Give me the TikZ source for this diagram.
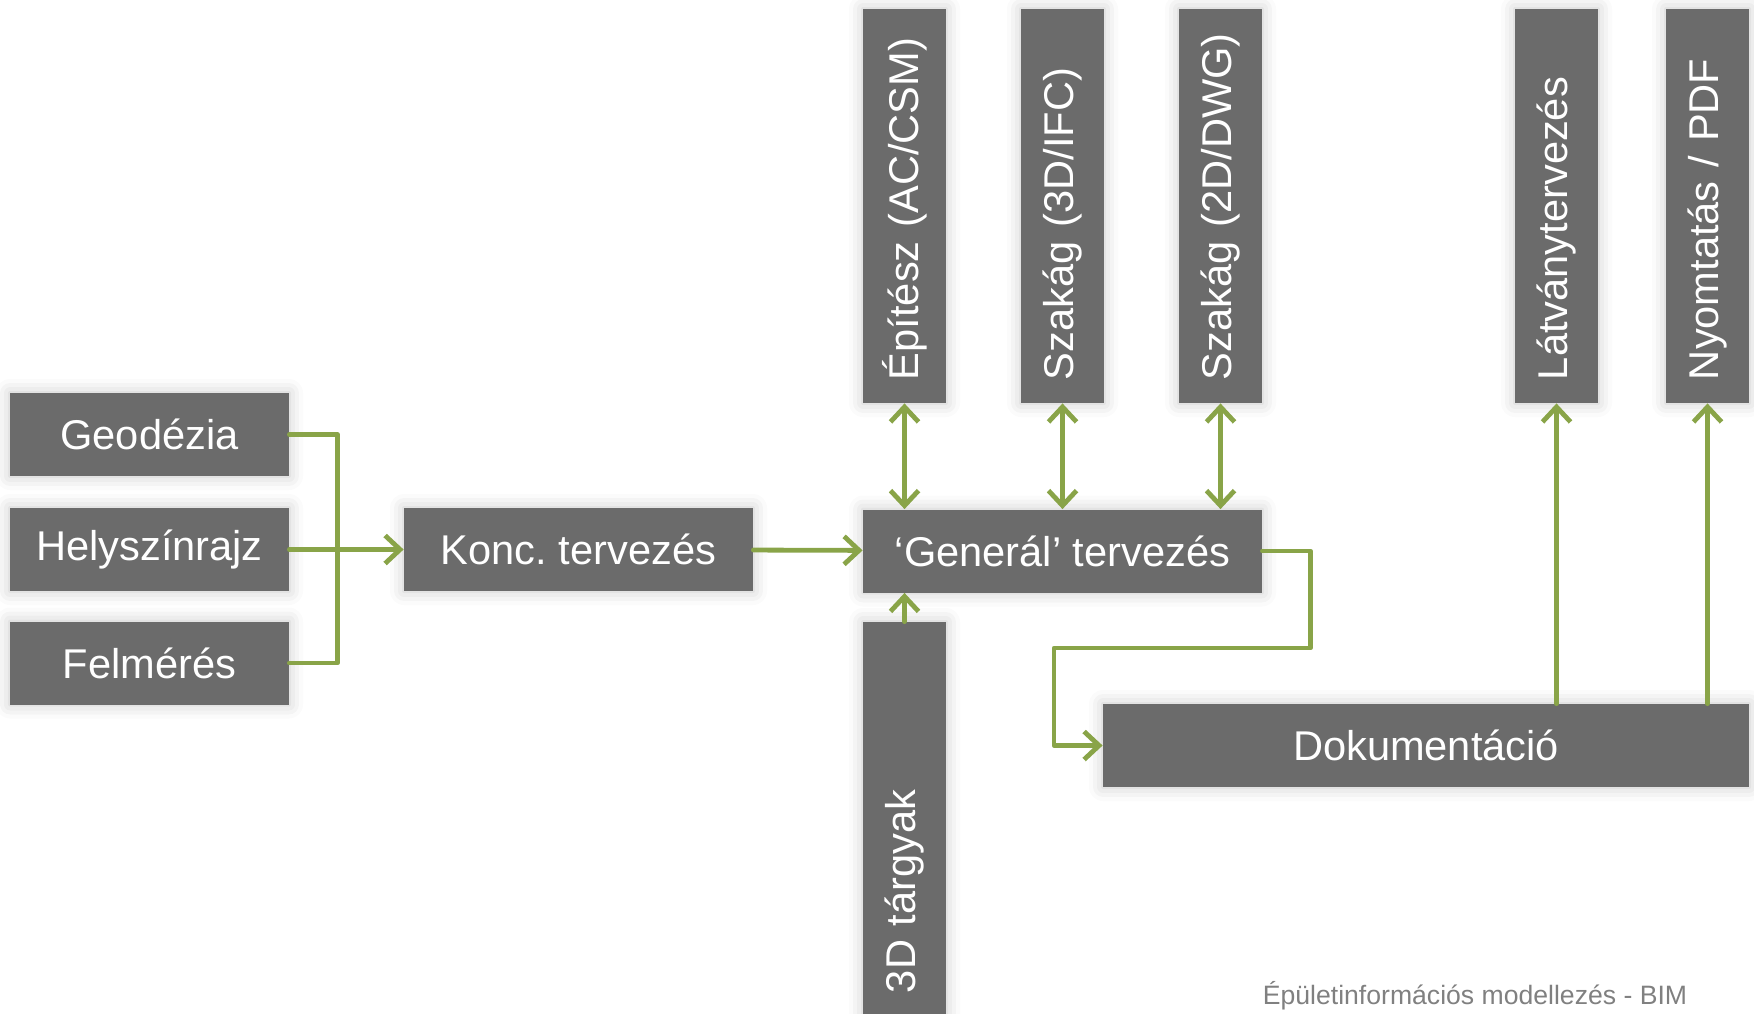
\documentclass[tikz,border=0pt]{standalone}
\usepackage{fontspec}
\setmainfont{Liberation Sans}
\usetikzlibrary{arrows.meta,calc,positioning,shadows.blur}
\definecolor{BoxGray}{RGB}{107,107,107}
\definecolor{LinkGreen}{RGB}{137,164,72}
\definecolor{NoteGray}{RGB}{128,128,128}
\frenchspacing

\begin{document}
\begin{tikzpicture}[x=0.5pt,y=-0.5pt,
  box/.style={fill=BoxGray,text=white,inner sep=0pt,font=\fontsize{20.8}{25}\selectfont,
    blur shadow={shadow xshift=0pt,shadow yshift=0pt,shadow blur radius=7pt,shadow opacity=22}},
  hbox/.style={box,minimum height=41.5pt},
  vbox/.style={box,rotate=90,minimum width=197pt,minimum height=41.5pt,text width=178pt,inner xsep=9.5pt,align=left},
  link/.style={draw=LinkGreen,line width=2.4pt,line cap=round,line join=round},
  arr/.style={link,-{Straight Barb[length=7.5pt,width=14pt]}},
  darr/.style={link,{Straight Barb[length=7.5pt,width=14pt]}-{Straight Barb[length=7.5pt,width=14pt]}}]
\useasboundingbox (0,0) rectangle (1754,1013);
% bemenetek
\node[hbox,minimum width=139.5pt] (Geodezia) at (149.5,434.5) {Geodézia};
\node[hbox,minimum width=139.5pt] (Helyszinrajz) at (149.5,549.5) {Helyszínrajz};
\node[hbox,minimum width=139.5pt] (Felmeres) at (149.5,663) {Felmérés};
\node[hbox,minimum width=174.5pt] (KoncTervezes) at (578.5,549.5) {Konc. tervezés};
\node[hbox,minimum width=199.5pt] (GeneralTervezes) at (1062.5,551) {‘Generál’ tervezés};
\node[hbox,minimum width=323pt] (Dokumentacio) at (1426,745.5) {Dokumentáció};
% fuggoleges dobozok
\node[vbox] (Epitesz) at (904.5,206) {\hspace*{2pt}Építész (AC/CSM)};
\node[vbox] (SzakagIFC) at (1062.5,206) {\hspace*{2pt}Szakág (3D/IFC)};
\node[vbox] (SzakagDWG) at (1220.5,206) {\hspace*{2pt}Szakág (2D/DWG)};
\node[vbox] (Latvanyterv) at (1556.5,206) {\hspace*{2pt}Látványtervezés};
\node[vbox] (Nyomtatas) at (1707.5,206) {\hspace*{2pt}Nyomtatás / PDF};
\node[vbox] (Targyak) at (904.5,819) {\hspace*{2pt}3D tárgyak};
\node[font=\fontsize{13.3}{16}\selectfont,text=NoteGray] (Lablec) at (1475,996) {Épületinformációs modellezés - BIM};
% kapcsolatok
\draw[link] (Geodezia.east) -- ++(48,0) |- (Felmeres.east);
\draw[arr] (Helyszinrajz) -- (KoncTervezes);
\draw[arr] (KoncTervezes) -- (GeneralTervezes);
\foreach \n in {Epitesz,SzakagIFC,SzakagDWG}
  \draw[darr] (\n.west) -- (\n.west |- GeneralTervezes.north);
\draw[arr] (Targyak.east) -- (Targyak.east |- GeneralTervezes.south);
\coordinate (DokFordulo) at (1054,648);
\draw[arr] (GeneralTervezes.east) -- ++(48,0) |- (DokFordulo) |- (Dokumentacio.west);
\foreach \n in {Latvanyterv,Nyomtatas}
  \draw[arr] (Dokumentacio.north -| \n) -- (\n.west);
\end{tikzpicture}
\end{document}
